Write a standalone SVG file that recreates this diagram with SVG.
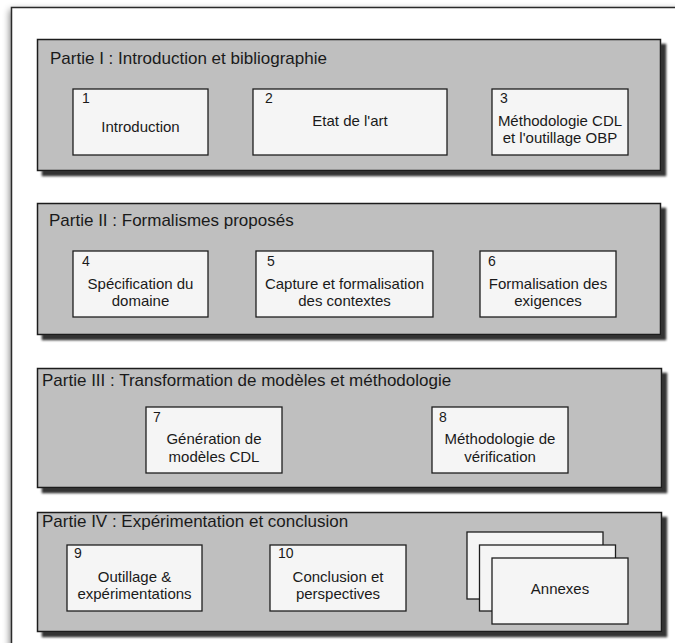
<svg xmlns="http://www.w3.org/2000/svg" width="675" height="643" viewBox="0 0 675 643">
<defs>
<filter id="outerShadow" x="-10%" y="-10%" width="120%" height="120%">
<feGaussianBlur in="SourceAlpha" stdDeviation="3.5"/>
<feOffset dx="-1" dy="3"/>
<feComponentTransfer><feFuncA type="linear" slope="0.5"/></feComponentTransfer>
<feMerge><feMergeNode/><feMergeNode in="SourceGraphic"/></feMerge>
</filter>
<filter id="partShadow" x="-5%" y="-10%" width="115%" height="130%">
<feGaussianBlur in="SourceAlpha" stdDeviation="1.2"/>
<feOffset dx="5" dy="5" result="o"/>
<feComponentTransfer><feFuncA type="linear" slope="0.8"/></feComponentTransfer>
<feMerge><feMergeNode/><feMergeNode in="SourceGraphic"/></feMerge>
</filter>
</defs>
<style>
.outer{fill:#ffffff;stroke:#2a2a2a;stroke-width:1.5}
.part{fill:#bfbfbf;stroke:#1a1a1a;stroke-width:1.5}
.box{fill:#f5f5f5;stroke:#1e1e1e;stroke-width:1.3}
text{font-family:"Liberation Sans",Arial,Helvetica,sans-serif;fill:#1a1a1a}
.title{font-size:17px}
.num{font-size:14px}
.lbl{font-size:15px;text-anchor:middle}
</style>
<rect width="675" height="643" fill="#ffffff"/>
<g id="frame">
<rect class="outer" x="11.5" y="7.5" width="700" height="700" filter="url(#outerShadow)"/>
</g>
<g id="connectors"></g>

<g id="partie1">
<rect class="part" x="37.5" y="39.5" width="623" height="131" filter="url(#partShadow)"/>
<text class="title" x="50" y="64">Partie I : Introduction et bibliographie</text>
</g>
<g id="ch1">
<rect class="box" x="73" y="89" width="135" height="66"/>
<text class="num" x="82" y="103">1</text>
<text class="lbl" x="140.5" y="132">Introduction</text>
</g>
<g id="ch2">
<rect class="box" x="253" y="89" width="194" height="66"/>
<text class="num" x="265" y="103">2</text>
<text class="lbl" x="350" y="126">Etat de l'art</text>
</g>
<g id="ch3">
<rect class="box" x="492" y="89" width="136" height="66"/>
<text class="num" x="500" y="103">3</text>
<text class="lbl" x="560" y="126">Méthodologie CDL</text>
<text class="lbl" x="560" y="143">et l'outillage OBP</text>
</g>

<g id="partie2">
<rect class="part" x="37.5" y="203.5" width="623" height="131" filter="url(#partShadow)"/>
<text class="title" x="49" y="226">Partie II : Formalismes proposés</text>
</g>
<g id="ch4">
<rect class="box" x="73" y="251" width="135" height="66"/>
<text class="num" x="82" y="266">4</text>
<text class="lbl" x="140.5" y="289">Spécification du</text>
<text class="lbl" x="140.5" y="306">domaine</text>
</g>
<g id="ch5">
<rect class="box" x="256" y="251" width="177" height="66"/>
<text class="num" x="267" y="266">5</text>
<text class="lbl" x="344.5" y="289">Capture et formalisation</text>
<text class="lbl" x="344.5" y="306">des contextes</text>
</g>
<g id="ch6">
<rect class="box" x="480" y="251" width="136" height="66"/>
<text class="num" x="488" y="266">6</text>
<text class="lbl" x="548" y="289">Formalisation des</text>
<text class="lbl" x="548" y="306">exigences</text>
</g>

<g id="partie3">
<rect class="part" x="37.5" y="368.5" width="624" height="119" filter="url(#partShadow)"/>
<text class="title" x="42" y="386">Partie III : Transformation de modèles et méthodologie</text>
</g>
<g id="ch7">
<rect class="box" x="146" y="407" width="136" height="66"/>
<text class="num" x="153" y="422">7</text>
<text class="lbl" x="214" y="444">Génération de</text>
<text class="lbl" x="214" y="462">modèles CDL</text>
</g>
<g id="ch8">
<rect class="box" x="432" y="407" width="136" height="66"/>
<text class="num" x="439" y="422">8</text>
<text class="lbl" x="500" y="444">Méthodologie de</text>
<text class="lbl" x="500" y="462">vérification</text>
</g>

<g id="partie4">
<rect class="part" x="37.5" y="512.5" width="624" height="119" filter="url(#partShadow)"/>
<text class="title" x="42" y="527">Partie IV : Expérimentation et conclusion</text>
</g>
<g id="ch9">
<rect class="box" x="67" y="545" width="135" height="66"/>
<text class="num" x="74" y="558">9</text>
<text class="lbl" x="134.5" y="582">Outillage &amp;</text>
<text class="lbl" x="134.5" y="599">expérimentations</text>
</g>
<g id="ch10">
<rect class="box" x="270" y="545" width="136" height="66"/>
<text class="num" x="278" y="558">10</text>
<text class="lbl" x="338" y="582">Conclusion et</text>
<text class="lbl" x="338" y="599">perspectives</text>
</g>
<g id="annexes">
<rect class="box" x="467" y="532" width="136" height="67"/>
<rect class="box" x="479.5" y="545" width="136" height="66"/>
<rect class="box" x="492" y="558" width="136" height="66"/>
<text class="lbl" x="560" y="594">Annexes</text>
</g>
</svg>
